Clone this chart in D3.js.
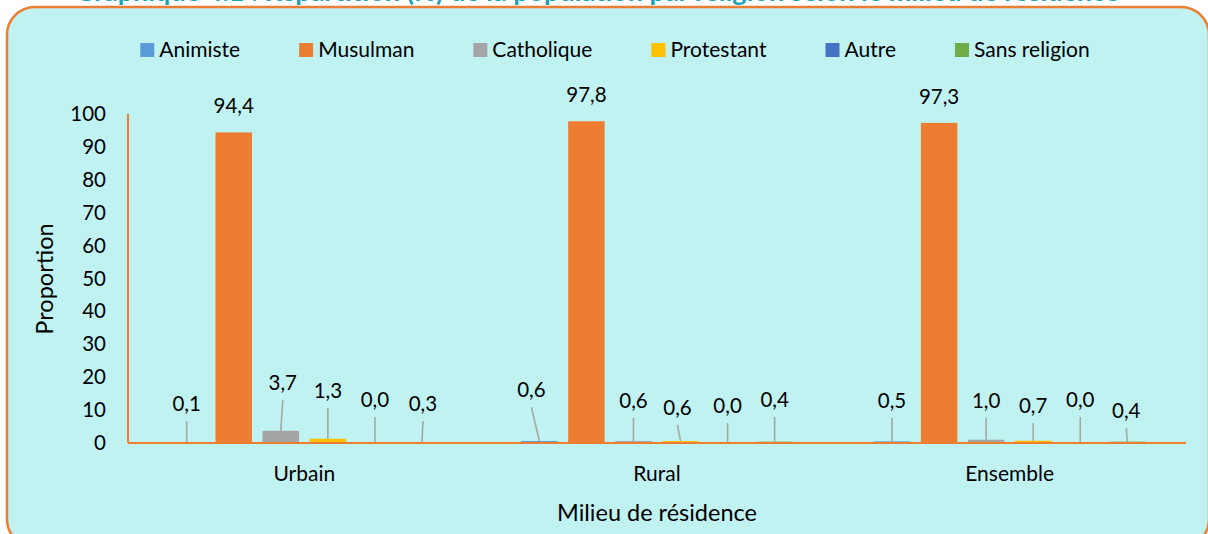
<!DOCTYPE html>
<html>
<head>
  <meta charset="utf-8">
  <script src="https://d3js.org/d3.v7.min.js"></script>
  <style>
    body { margin: 0; background: #ffffff; }
    text { font-family: Lato, "Noto Sans", sans-serif; fill: #000000; }
  </style>
</head>
<body>
<script type="text/javascript">
  /*
    Chart data
  */
  var categories = ["Urbain", "Rural", "Ensemble"];
  var religions = ["Animiste", "Musulman", "Catholique", "Protestant", "Autre", "Sans religion"];
  var animiste = [0.1, 0.6, 0.5];
  var musulman = [94.4, 97.8, 97.3];
  var catholique = [3.7, 0.6, 1.0];
  var protestant = [1.3, 0.6, 0.7];
  var autre = [0.0, 0.0, 0.0];
  var sansReligion = [0.3, 0.4, 0.4];
  var yTicks = [0, 10, 20, 30, 40, 50, 60, 70, 80, 90, 100];

  var colors = ["#5b9bd5", "#ed7d31", "#a5a5a5", "#ffc000", "#4472c4", "#70ad47"];

  /*
    Hand-placed data labels (pixels above the axis, horizontal shift),
    one row per category, one entry per religion. null = label right above the bar.
  */
  var labelLift = [
    [39, null, 60, 52, 43, 39],
    [53, null, 42, 35, 37, 43],
    [42, null, 42, 37, 43, 32]
  ];
  var labelShift = [
    [0, 0, 2, 0, 0, 1],
    [-8, 0, 0, -3, 0, 0],
    [0, 0, 0, 0, 0, -1]
  ];

  var series = [animiste, musulman, catholique, protestant, autre, sansReligion];

  var width = 1208, height = 534;
  var plotLeft = 128, plotRight = 1186, plotTop = 114, plotBottom = 443;

  var svg = d3.select("body")
    .append("svg")
    .attr("width", width)
    .attr("height", height);

  /*
    Title (cut by the top of the picture) and framed background
  */
  svg.append("text")
    .attr("x", 597)
    .attr("y", 1)
    .attr("text-anchor", "middle")
    .style("font-size", "27px")
    .style("font-weight", "bold")
    .style("fill", "#17a3b4")
    .text("Graphique 4.1 : Répartition (%) de la population par religion selon le milieu de résidence");

  svg.append("rect")
    .attr("x", 7)
    .attr("y", 7)
    .attr("width", 1202)
    .attr("height", 540)
    .attr("rx", 28)
    .attr("ry", 28)
    .style("fill", "#c0f2f2")
    .style("stroke", "#ed7d31")
    .style("stroke-width", 2.5);

  /*
    Scales
  */
  var x0 = d3.scaleBand()
    .domain(categories)
    .range([plotLeft, plotRight])
    .padding(0);

  var x1 = d3.scaleBand()
    .domain(religions)
    .range([0, x0.bandwidth()])
    .paddingInner(0.225)
    .paddingOuter(0.86);

  var y = d3.scaleLinear()
    .domain([0, 100])
    .range([plotBottom, plotTop]);

  /*
    Axes
  */
  var yAxis = svg.append("g")
    .attr("transform", "translate(" + plotLeft + ",0)")
    .call(d3.axisLeft(y).tickValues(yTicks).tickSize(0).tickPadding(22));
  yAxis.select(".domain").remove();
  yAxis.selectAll("text")
    .style("font-size", "20.5px")
    .attr("font-family", null);

  svg.append("line")
    .attr("x1", plotLeft).attr("x2", plotLeft)
    .attr("y1", y(100)).attr("y2", plotBottom)
    .style("stroke", "#ed7d31")
    .style("stroke-width", 2);

  var xAxis = svg.append("g")
    .attr("transform", "translate(0," + plotBottom + ")")
    .call(d3.axisBottom(x0).tickSize(0).tickPadding(23));
  xAxis.select(".domain").remove();
  xAxis.selectAll("text")
    .style("font-size", "21px")
    .attr("font-family", null);

  /*
    Bars
  */
  var groups = svg.selectAll("g.group")
    .data(categories)
    .enter()
    .append("g")
    .attr("class", "group")
    .attr("transform", function(d) { return "translate(" + x0(d) + ",0)"; });

  groups.selectAll("rect")
    .data(function(d, i) {
      return religions.map(function(r, j) { return { cat: i, ser: j, name: r, value: series[j][i] }; });
    })
    .enter()
    .append("rect")
    .attr("x", function(d) { return x1(d.name); })
    .attr("width", x1.bandwidth())
    .attr("y", function(d) { return y(d.value); })
    .attr("height", function(d) { return plotBottom - y(d.value); })
    .style("fill", function(d) { return colors[d.ser]; });

  svg.append("line")
    .attr("x1", plotLeft).attr("x2", plotRight)
    .attr("y1", plotBottom).attr("y2", plotBottom)
    .style("stroke", "#ed7d31")
    .style("stroke-width", 2);

  /*
    Data labels with leader lines
  */
  var labels = [];
  categories.forEach(function(c, i) {
    religions.forEach(function(r, j) {
      var v = series[j][i];
      var cx = x0(c) + x1(r) + x1.bandwidth() / 2;
      var lift = labelLift[i][j];
      var ly = lift === null ? y(v) - 26 : plotBottom - lift;
      labels.push({ value: v, barX: cx, barY: y(v), lx: cx + labelShift[i][j], ly: ly, leader: lift !== null });
    });
  });

  svg.selectAll("line.leader")
    .data(labels.filter(function(d) { return d.leader; }))
    .enter()
    .append("line")
    .attr("class", "leader")
    .attr("x1", function(d) { return d.lx; })
    .attr("y1", function(d) { return d.ly + 17; })
    .attr("x2", function(d) { return d.barX; })
    .attr("y2", function(d) { return Math.min(d.barY, plotBottom - 1); })
    .style("stroke", "#a6a6a6")
    .style("stroke-width", 1.6);

  svg.selectAll("text.value")
    .data(labels)
    .enter()
    .append("text")
    .attr("class", "value")
    .attr("x", function(d) { return d.lx; })
    .attr("y", function(d) { return d.ly + 7; })
    .attr("text-anchor", "middle")
    .style("font-size", "20.5px")
    .text(function(d) { return d.value.toFixed(1).replace(".", ","); });

  /*
    Legend
  */
  var legend = svg.append("g").attr("class", "legend");
  var lx = 0;
  religions.forEach(function(r, j) {
    var item = legend.append("g").attr("transform", "translate(" + lx + ",0)");
    item.append("rect")
      .attr("x", 0).attr("y", 43)
      .attr("width", 14).attr("height", 14)
      .style("fill", colors[j]);
    var t = item.append("text")
      .attr("x", 19).attr("y", 57)
      .style("font-size", "21px")
      .text(r);
    lx += 19 + t.node().getComputedTextLength() + 59;
  });
  var legendWidth = lx - 59;
  legend.attr("transform", "translate(" + (615 - legendWidth / 2) + ",0)");

  /*
    Axis titles
  */
  svg.append("text")
    .attr("transform", "translate(53,279) rotate(-90)")
    .attr("text-anchor", "middle")
    .style("font-size", "23.5px")
    .text("Proportion");

  svg.append("text")
    .attr("x", 657)
    .attr("y", 521)
    .attr("text-anchor", "middle")
    .style("font-size", "23.5px")
    .text("Milieu de résidence");
</script>
</body>
</html>
